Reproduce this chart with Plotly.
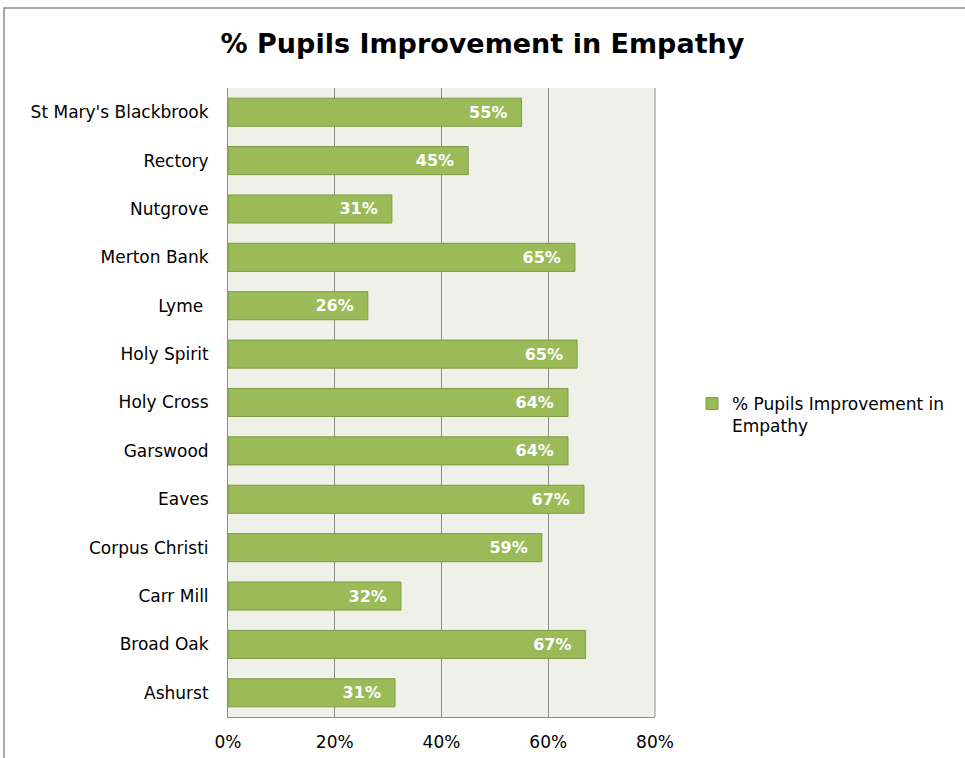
import plotly.graph_objects as go

schools = ["Ashurst", "Broad Oak", "Carr Mill", "Corpus Christi", "Eaves", "Garswood",
           "Holy Cross", "Holy Spirit", "Lyme\u00a0", "Merton Bank", "Nutgrove", "Rectory",
           "St Mary's Blackbrook"]
values = [0.313, 0.67, 0.324, 0.588, 0.667, 0.637, 0.637, 0.654, 0.262, 0.65, 0.307, 0.45, 0.55]
labels = [f"{round(v*100)}%\u00a0\u00a0" for v in values]
series_name = "% Pupils Improvement in<br>Empathy"
tick_vals = [0, 0.2, 0.4, 0.6, 0.8]
tick_text = ["0%", "20%", "40%", "60%", "80%"]

FONT = "DejaVu Sans"

fig = go.Figure()
fig.add_trace(go.Bar(
    y=schools, x=values, orientation="h", name=series_name,
    marker=dict(color="#9BBB59", line=dict(color="#7E9B45", width=1)),
    text=labels, textposition="inside", insidetextanchor="end",
    textfont=dict(family=FONT, size=16, color="white", weight="bold"),
    showlegend=True,
))

L, R, T, B = 228, 310, 88, 41
W, H = 965, 758
pw, ph = W - L - R, H - T - B

fig.update_layout(
    width=W, height=H,
    margin=dict(l=L, r=R, t=T, b=B, autoexpand=False),
    paper_bgcolor="white", plot_bgcolor="#EFF1E9",
    bargap=0.42,
    title=dict(text="<b>% Pupils Improvement in Empathy</b>", x=0.5, xanchor="center",
               y=1 - 44 / H, yanchor="middle",
               font=dict(family=FONT, size=27, color="black")),
    xaxis=dict(range=[0, 0.8], tickvals=tick_vals, ticktext=tick_text,
               showgrid=True, gridcolor="#8C8C8C", gridwidth=1,
               showline=True, linecolor="#8C8C8C", linewidth=1, mirror=False,
               zeroline=False, tickfont=dict(family=FONT, size=17, color="black"),
               ticks="", ticklabelstandoff=10, fixedrange=True, automargin=False),
    yaxis=dict(showline=True, linecolor="#8C8C8C", linewidth=1, showgrid=False,
               tickfont=dict(family=FONT, size=17, color="black"),
               ticks="", ticklabelstandoff=15, fixedrange=True, automargin=False),
    legend=dict(x=(692 - L) / pw, y=(717 - 415) / ph, xanchor="left", yanchor="middle",
                valign="top",
                font=dict(family=FONT, size=17, color="black"), bgcolor="rgba(0,0,0,0)"),
    shapes=[
        dict(type="line", xref="paper", yref="paper", x0=1, x1=1, y0=0, y1=1,
             line=dict(color="#8C8C8C", width=1)),
        dict(type="rect", xref="paper", yref="paper",
             x0=(4 - L) / pw, x1=3, y0=-2, y1=(717 - 8) / ph,
             line=dict(color="#8C8C8C", width=1.5), fillcolor="rgba(0,0,0,0)", layer="below"),
    ],
)

fig.write_html("out.html", config={"displayModeBar": False},
               post_script="document.body.style.margin='0px';")
